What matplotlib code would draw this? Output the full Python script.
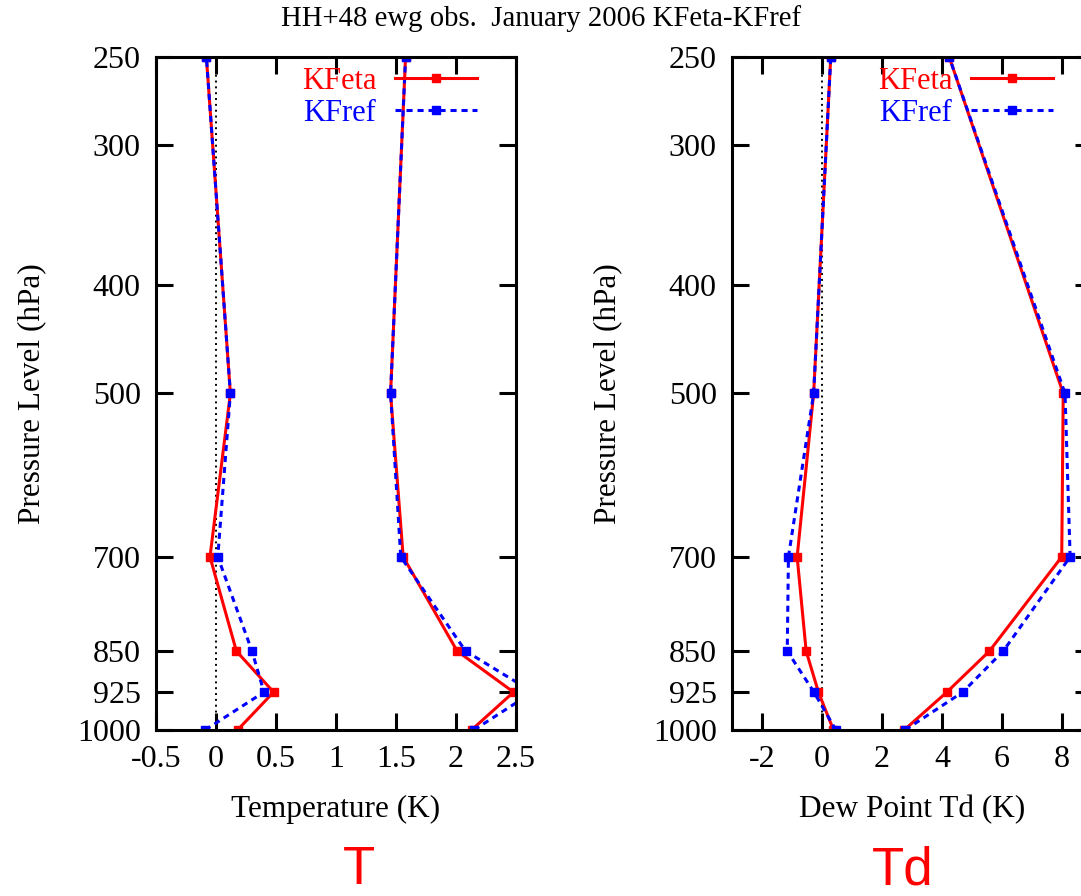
import matplotlib
matplotlib.use('Agg')
import matplotlib.pyplot as plt
from matplotlib.ticker import NullLocator

# pressure levels (hPa), bottom to top
levels = [1000, 925, 850, 700, 500, 250]
pres_ticks = [250, 300, 400, 500, 700, 850, 925, 1000]

# temperature (K)
t_bias_kfeta = [0.18, 0.48, 0.17, -0.05, 0.12, -0.08]
t_bias_kfref = [-0.09, 0.40, 0.30, 0.015, 0.12, -0.08]
t_rms_kfeta = [2.13, 2.48, 2.01, 1.56, 1.455, 1.58]
t_rms_kfref = [2.15, 2.64, 2.08, 1.54, 1.455, 1.58]

# dew point (K)
td_bias_kfeta = [0.38, -0.12, -0.53, -0.83, -0.28, 0.29]
td_bias_kfref = [0.46, -0.27, -1.16, -1.12, -0.28, 0.29]
td_rms_kfeta = [2.74, 4.16, 5.58, 7.99, 8.04, 4.24]
td_rms_kfref = [2.77, 4.69, 6.04, 8.27, 8.10, 4.24]

t_xticks = [-0.5, 0, 0.5, 1, 1.5, 2, 2.5]
t_xticklabels = ['-0.5', '0', '0.5', '1', '1.5', '2', '2.5']
td_xticks = [-2, 0, 2, 4, 6, 8]
td_xticklabels = ['-2', '0', '2', '4', '6', '8']

plt.rcParams['font.family'] = 'Liberation Serif'
plt.rcParams['axes.unicode_minus'] = False

fig = plt.figure(figsize=(10.81, 8.96), dpi=100)

ax1 = fig.add_axes([0.1443, 0.1853, 0.3330, 0.7511])
ax2 = fig.add_axes([0.6772, 0.1853, 0.3330, 0.7511])


def draw_panel(ax, bias_a, bias_b, rms_a, rms_b, xlim, xticks, xticklabels, xlabel):
    ax.axvline(0, color='black', ls=(0, (1, 2)), lw=1.4)
    ax.plot(bias_a, levels, color='red', lw=2.2, marker='s', ms=5.5, label='KFeta')
    ax.plot(bias_b, levels, color='blue', lw=2.2, ls=(0, (2, 1.6)), marker='s', ms=5.5, label='KFref')
    ax.plot(rms_a, levels, color='red', lw=2.2, marker='s', ms=5.5)
    ax.plot(rms_b, levels, color='blue', lw=2.2, ls=(0, (2, 1.6)), marker='s', ms=5.5)

    ax.set_yscale('log')
    ax.set_ylim(1000, 250)
    ax.set_yticks(pres_ticks, [str(p) for p in pres_ticks])
    ax.yaxis.set_minor_locator(NullLocator())
    ax.set_xlim(*xlim)
    ax.set_xticks(xticks, xticklabels)

    ax.tick_params(direction='in', length=12, width=2.2, top=True, right=True, labelsize=23)
    ax.tick_params(axis='x', pad=11)
    ax.tick_params(axis='y', pad=11)
    for s in ax.spines.values():
        s.set_linewidth(2.2)

    ax.set_xlabel(xlabel, fontsize=22.5)
    ax.xaxis.set_label_coords(0.5, -0.097)
    ax.set_ylabel('Pressure Level (hPa)', fontsize=22.5)
    ax.yaxis.set_label_coords(-0.305, 0.5)

    ax.legend(loc='upper right', bbox_to_anchor=(0.892, 0.985), frameon=False,
              markerfirst=False, handlelength=2.7, handletextpad=0.6,
              labelspacing=0.1, borderpad=0, borderaxespad=0,
              labelcolor='linecolor', fontsize=22, numpoints=1)


draw_panel(ax1, t_bias_kfeta, t_bias_kfref, t_rms_kfeta, t_rms_kfref,
           (-0.5, 2.5), t_xticks, t_xticklabels, 'Temperature (K)')
draw_panel(ax2, td_bias_kfeta, td_bias_kfref, td_rms_kfeta, td_rms_kfref,
           (-3, 9), td_xticks, td_xticklabels, 'Dew Point Td (K)')

fig.text(541 / 1081, 1 - 19 / 896, 'HH+48 ewg obs.  January 2006 KFeta-KFref',
         ha='center', va='center', fontsize=20.7)

fig.text(359 / 1081, 1 - 870 / 896, 'T', color='red', family='Liberation Sans',
         ha='center', va='center', fontsize=38)
fig.text(903 / 1081, 1 - 870 / 896, 'Td', color='red', family='Liberation Sans',
         ha='center', va='center', fontsize=38)

fig.savefig('out.png', dpi=100)
